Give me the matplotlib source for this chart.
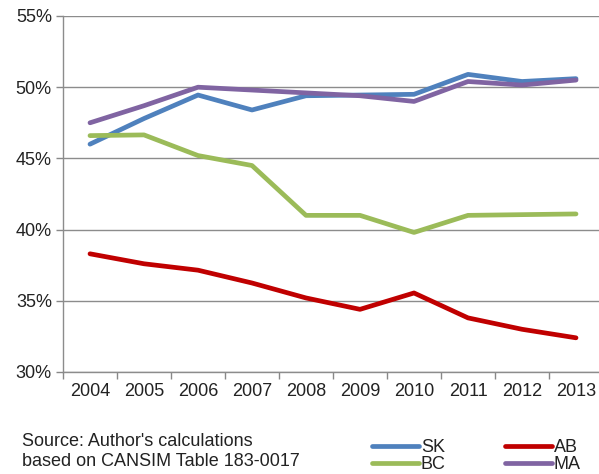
import matplotlib.pyplot as plt
from matplotlib.ticker import FuncFormatter

plt.rcParams["font.family"] = ["Liberation Sans", "DejaVu Sans"]

years = [2004, 2005, 2006, 2007, 2008, 2009, 2010, 2011, 2012, 2013]
sk = [46.0, 47.8, 49.45, 48.4, 49.4, 49.45, 49.5, 50.9, 50.4, 50.6]
ab = [38.3, 37.6, 37.15, 36.25, 35.2, 34.4, 35.55, 33.8, 33.0, 32.4]
bc = [46.6, 46.65, 45.2, 44.5, 41.0, 41.0, 39.8, 41.0, 41.05, 41.1]
ma = [47.5, 48.7, 50.0, 49.8, 49.6, 49.4, 49.0, 50.4, 50.15, 50.5]
yticks = [30, 35, 40, 45, 50, 55]

COLORS = {
    "SK": "#4f81bd",
    "AB": "#c00000",
    "BC": "#9bbb59",
    "MA": "#8064a2",
}

W, H = 599, 474
fig = plt.figure(figsize=(W / 100, H / 100), dpi=100)
# axes runs a little past the right edge, like the original export
ax = fig.add_axes([63 / W, 1 - 372 / H, 540 / W, 356 / H])

x = list(range(len(years)))
lines = {}
for name, vals in [("SK", sk), ("BC", bc), ("AB", ab), ("MA", ma)]:
    (ln,) = ax.plot(x, vals, color=COLORS[name], lw=3.4, label=name,
                    solid_joinstyle="round", solid_capstyle="round", zorder=3)
    lines[name] = ln

ax.set_xlim(-0.5, len(years) - 0.5)
ax.set_ylim(30, 55)
ax.set_yticks(yticks)
ax.yaxis.set_major_formatter(FuncFormatter(lambda v, _: f"{v:.0f}%"))
ax.set_xticks(x)
ax.set_xticklabels([str(y) for y in years])
ax.set_xticks([i - 0.5 for i in range(len(years) + 1)], minor=True)
ax.tick_params(axis="x", which="major", length=0, pad=8, labelsize=13,
               colors="#222222")
ax.tick_params(axis="x", which="minor", length=5, color="#888888", width=1)
ax.tick_params(axis="y", length=5, color="#888888", width=1, pad=3,
               labelsize=13, labelcolor="#222222")

ax.grid(axis="y", color="#8c8c8c", lw=1.0, zorder=1)
for s in ["top", "right"]:
    ax.spines[s].set_visible(False)
for s in ["left", "bottom"]:
    ax.spines[s].set_color("#8c8c8c")
    ax.spines[s].set_linewidth(1.0)

fig.text(22 / W, 1 - 441 / H, "Source: Author's calculations",
         fontsize=13, va="center", ha="left", color="#222222")
fig.text(22 / W, 1 - 462 / H, "based on CANSIM Table 183-0017",
         fontsize=13, va="center", ha="left", color="#222222")

leg = fig.legend(
    [lines["SK"], lines["BC"], lines["AB"], lines["MA"]],
    ["SK", "BC", "AB", "MA"],
    loc="center left", bbox_to_anchor=(372 / W, 1 - 456 / H),
    ncol=2, frameon=False, fontsize=13, handlelength=2.6,
    handletextpad=0.1, columnspacing=3.3, labelspacing=0.0,
    borderaxespad=0, borderpad=0,
)
for t in leg.get_texts():
    t.set_color("#222222")

fig.savefig("out.png", dpi=100)
